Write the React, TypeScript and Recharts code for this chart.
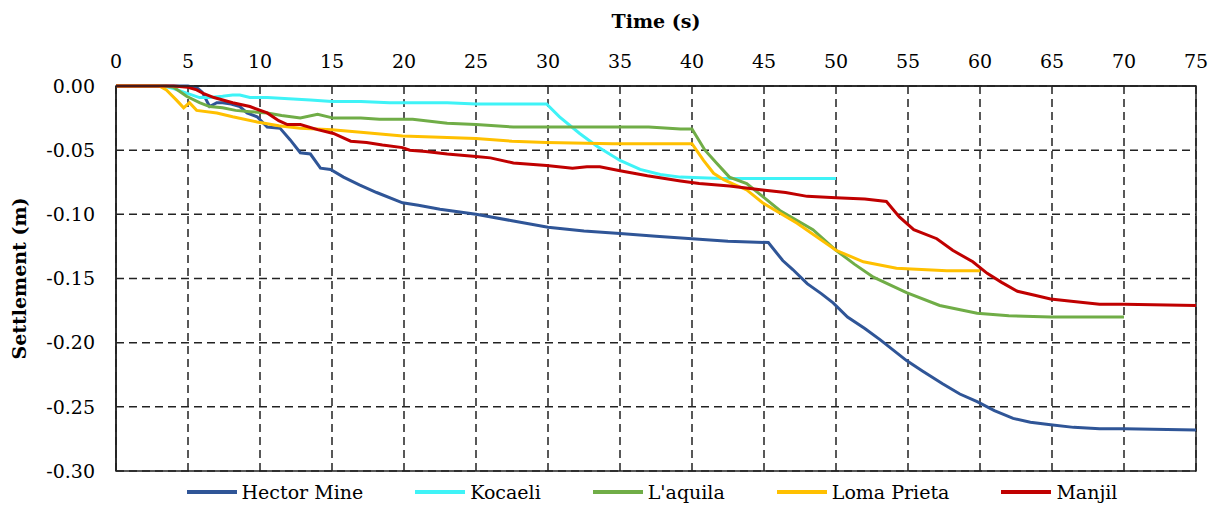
import React from 'react';
import {
  LineChart,
  Line,
  XAxis,
  YAxis,
  CartesianGrid,
  Legend,
  ReferenceArea,
} from 'recharts';

// time (s), settlement (m) pairs
const hectorMine: [number, number][] = [
  [0, 0], [3, 0], [5, 0], [5.7, -0.002], [6.0, -0.005], [6.5, -0.016], [7.0, -0.013],
  [7.4, -0.013], [8.0, -0.014], [8.6, -0.016], [9.1, -0.021], [9.8, -0.024], [10.5, -0.032],
  [11.4, -0.033], [12.1, -0.042], [12.8, -0.052], [13.5, -0.053], [14.2, -0.064], [14.9, -0.065],
  [15.8, -0.071], [16.9, -0.077], [18.1, -0.083], [19.9, -0.091], [21, -0.093], [22.5, -0.096],
  [25, -0.1], [27.5, -0.105], [30, -0.11], [32.5, -0.113], [35, -0.115], [37.5, -0.117],
  [40, -0.119], [42.5, -0.121], [45.3, -0.122], [46.3, -0.136], [47, -0.143], [48, -0.154],
  [49, -0.162], [49.8, -0.169], [50.8, -0.18], [52, -0.189], [53.1, -0.198], [54.9, -0.214],
  [56, -0.222], [57.4, -0.232], [58.6, -0.24], [59.8, -0.246], [61, -0.253], [62.3, -0.259],
  [63.5, -0.262], [64.9, -0.264], [66.5, -0.266], [68.3, -0.267], [70, -0.267], [75, -0.268],
];

const kocaeli: [number, number][] = [
  [0, 0], [3.3, 0], [4, -0.002], [5, -0.006], [5.8, -0.009], [6.5, -0.009], [7.4, -0.008],
  [8.1, -0.007], [8.6, -0.007], [9.3, -0.009], [10.5, -0.009], [12, -0.01], [13.5, -0.011],
  [15, -0.012], [17, -0.012], [19, -0.013], [21, -0.013], [23, -0.013], [25, -0.014],
  [27.5, -0.014], [29.9, -0.014], [30.8, -0.024], [32.2, -0.037], [33.4, -0.047], [35, -0.058],
  [36.4, -0.065], [37.8, -0.069], [39.2, -0.071], [42, -0.072], [45, -0.072], [50, -0.072],
];

const laquila: [number, number][] = [
  [0, 0], [3.5, 0], [4, -0.001], [4.9, -0.008], [5.8, -0.013], [6.5, -0.016], [7.4, -0.017],
  [8.3, -0.019], [9.3, -0.02], [10.5, -0.021], [11.5, -0.023], [12.8, -0.025], [14, -0.022],
  [15.1, -0.025], [17, -0.025], [18.3, -0.026], [20.6, -0.026], [23, -0.029], [25, -0.03],
  [27.6, -0.032], [29.9, -0.032], [32, -0.032], [34.5, -0.032], [37, -0.032], [39.2, -0.0335],
  [40, -0.0335], [40.9, -0.05], [41.7, -0.06], [42.6, -0.071], [43.8, -0.076], [44.9, -0.086],
  [46.1, -0.097], [48.4, -0.112], [50, -0.128], [51.3, -0.139], [52.6, -0.149], [54.9, -0.161],
  [57.2, -0.171], [59.8, -0.177], [62, -0.179], [64.9, -0.18], [70, -0.18],
];

const lomaPrieta: [number, number][] = [
  [0, 0], [3, 0], [3.5, -0.003], [4.2, -0.011], [4.7, -0.017], [5.1, -0.013], [5.6, -0.019],
  [7, -0.021], [8.1, -0.024], [9.8, -0.028], [11.3, -0.031], [12.8, -0.033], [15, -0.034],
  [17, -0.036], [19.9, -0.039], [22.5, -0.04], [25, -0.041], [27.5, -0.043], [29.9, -0.044],
  [34.5, -0.045], [40, -0.045], [40.8, -0.058], [41.5, -0.068], [42.2, -0.073], [42.8, -0.076],
  [43.8, -0.081], [44.9, -0.091], [47.3, -0.107], [50, -0.128], [51.9, -0.137], [54.2, -0.142],
  [57.7, -0.144], [60, -0.144],
];

const manjil: [number, number][] = [
  [0, 0], [4, 0], [5, -0.001], [5.6, -0.003], [6.1, -0.006], [6.8, -0.009], [8.1, -0.013],
  [9.3, -0.016], [10.5, -0.021], [11.3, -0.027], [11.9, -0.03], [12.8, -0.03], [14, -0.034],
  [15.1, -0.037], [16.3, -0.043], [17.4, -0.044], [18.5, -0.046], [19.9, -0.048], [20.4, -0.05],
  [21.5, -0.051], [23, -0.053], [25, -0.055], [26, -0.056], [27.6, -0.06], [29.9, -0.062],
  [31.7, -0.064], [32.7, -0.063], [33.6, -0.063], [35, -0.066], [36.9, -0.07], [39.2, -0.074],
  [40.5, -0.076], [42.6, -0.078], [44.9, -0.081], [46.5, -0.083], [48, -0.086], [50, -0.087],
  [52, -0.088], [53.5, -0.09], [54.4, -0.102], [55.4, -0.112], [57, -0.119], [58.1, -0.128],
  [59.5, -0.137], [60.5, -0.146], [61.5, -0.153], [62.6, -0.16], [63.8, -0.163], [64.9, -0.166],
  [66.5, -0.168], [68.3, -0.17], [70, -0.17], [75, -0.171],
];

const timeTicks = [0, 5, 10, 15, 20, 25, 30, 35, 40, 45, 50, 55, 60, 65, 70, 75];
const settlementTicks = [0, -0.05, -0.1, -0.15, -0.2, -0.25, -0.3];

const series = [
  { name: 'Hector Mine', points: hectorMine, color: '#2F5597' },
  { name: 'Kocaeli', points: kocaeli, color: '#3FF3F7' },
  { name: "L'aquila", points: laquila, color: '#70AD47' },
  { name: 'Loma Prieta', points: lomaPrieta, color: '#FFC000' },
  { name: 'Manjil', points: manjil, color: '#C00000' },
];

const FONT = '"DejaVu Serif", serif';
const FS = 19;

const LegendBox = () => (
  <div
    style={{
      display: 'flex',
      justifyContent: 'center',
      height: 26,
      alignItems: 'center',
      paddingLeft: 92,
      fontFamily: FONT,
      fontSize: FS,
      color: '#000',
    }}
  >
    {series.map((s, i) => (
      <div
        key={s.name}
        style={{ display: 'flex', alignItems: 'center', marginLeft: i === 0 ? 0 : 52 }}
      >
        <span style={{ width: 50, height: 4, background: s.color, marginRight: 5 }} />
        <span>{s.name}</span>
      </div>
    ))}
  </div>
);

export default function App() {
  return (
    <div style={{ position: 'absolute', left: 0, top: 0, fontFamily: FONT }}>
      <LineChart
        width={1210}
        height={505}
        margin={{ top: 50, right: 14, bottom: 8, left: 16 }}
        style={{ fontFamily: FONT }}
      >
        <CartesianGrid stroke="#222" strokeWidth={1.5} strokeDasharray="8 5" />
        <XAxis
          dataKey="t"
          type="number"
          orientation="top"
          domain={[0, 75]}
          ticks={timeTicks}
          height={36}
          axisLine={{ stroke: '#222', strokeWidth: 1.5 }}
          tickLine={false}
          tickSize={8}
          tickMargin={10}
          tick={{ fill: '#000', fontSize: FS, fontFamily: FONT }}
          label={{
            content: (props: any) => {
              const vb = props.viewBox || {};
              return (
                <text
                  x={vb.x + vb.width / 2}
                  y={28}
                  textAnchor="middle"
                  style={{ fontFamily: FONT }}
                  fontSize={FS}
                  fontWeight="bold"
                  fill="#000"
                >
                  Time (s)
                </text>
              );
            },
          }}
        />
        <YAxis
          type="number"
          domain={[-0.3, 0]}
          ticks={settlementTicks}
          width={100}
          axisLine={{ stroke: '#222', strokeWidth: 1.5 }}
          tickLine={false}
          tickSize={8}
          tickMargin={13}
          tickFormatter={(v: number) => v.toFixed(2)}
          tick={{ fill: '#000', fontSize: FS, fontFamily: FONT }}
          label={{
            content: (props: any) => {
              const vb = props.viewBox || {};
              const cy = vb.y + vb.height / 2;
              return (
                <text
                  x={26}
                  y={cy}
                  transform={`rotate(-90, 26, ${cy})`}
                  textAnchor="middle"
                  style={{ fontFamily: FONT }}
                  fontSize={FS}
                  fontWeight="bold"
                  fill="#000"
                >
                  Settlement (m)
                </text>
              );
            },
          }}
        />
        <ReferenceArea
          x1={0}
          x2={75}
          y1={-0.3}
          y2={0}
          fill="none"
          fillOpacity={0}
          stroke="#222"
          strokeWidth={1.5}
        />
        {series.map((s) => (
          <Line
            key={s.name}
            name={s.name}
            data={s.points.map(([t, v]) => ({ t, s: v }))}
            dataKey="s"
            type="linear"
            stroke={s.color}
            strokeWidth={3}
            dot={false}
            activeDot={false}
            isAnimationActive={false}
          />
        ))}
        <Legend
          verticalAlign="bottom"
          content={() => <LegendBox />}
          wrapperStyle={{ bottom: 0 }}
        />
      </LineChart>
    </div>
  );
}
